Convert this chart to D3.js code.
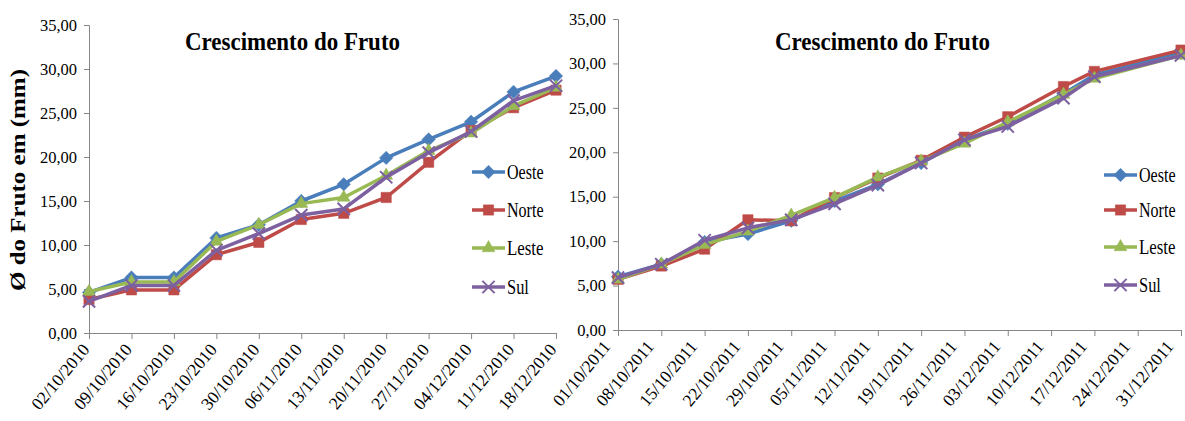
<!DOCTYPE html>
<html><head><meta charset="utf-8">
<script src="https://cdn.jsdelivr.net/npm/d3@7"></script>
<style>
html,body{margin:0;padding:0;background:#fff;}
svg{display:block;font-family:"Liberation Serif","Times New Roman",serif;}
</style></head>
<body><svg id="c" width="1185" height="421"></svg>
<script>
// ---- data ----
const seriesNames = ["Oeste","Norte","Leste","Sul"];
const seriesColors = ["#4A7EBB","#BE4B48","#98B954","#7D60A0"];
const seriesSymbols = ["diamond","square","triangle","x"];

const datesLeft = ["02/10/2010","09/10/2010","16/10/2010","23/10/2010","30/10/2010","06/11/2010","13/11/2010","20/11/2010","27/11/2010","04/12/2010","11/12/2010","18/12/2010"];
const oesteLeft = [4.6, 6.3, 6.3, 10.8, 12.3, 15.0, 16.9, 19.9, 22.0, 24.0, 27.4, 29.2];
const norteLeft = [3.8, 4.9, 4.9, 8.9, 10.3, 12.9, 13.6, 15.4, 19.4, 23.0, 25.6, 27.6];
const lesteLeft = [4.7, 5.8, 5.8, 10.4, 12.3, 14.7, 15.4, 17.9, 20.7, 22.7, 25.8, 27.9];
const sulLeft   = [3.6, 5.4, 5.4, 9.4, 11.3, 13.4, 14.1, 17.7, 20.5, 22.9, 26.4, 28.1];

const ticksRight = ["01/10/2011","08/10/2011","15/10/2011","22/10/2011","29/10/2011","05/11/2011","12/11/2011","19/11/2011","26/11/2011","03/12/2011","10/12/2011","17/12/2011","24/12/2011","31/12/2011"];
const datesRight = ["01/10/2011","08/10/2011","15/10/2011","22/10/2011","29/10/2011","05/11/2011","12/11/2011","19/11/2011","26/11/2011","03/12/2011","12/12/2011","17/12/2011","31/12/2011"];
const oesteRight = [6.0, 7.4, 9.9, 10.8, 12.3, 14.5, 16.4, 18.8, 21.4, 23.2, 26.6, 28.7, 31.2];
const norteRight = [5.7, 7.2, 9.1, 12.4, 12.3, 14.9, 17.1, 19.1, 21.7, 24.0, 27.4, 29.1, 31.5];
const lesteRight = [5.7, 7.4, 9.6, 11.1, 12.9, 14.9, 17.2, 19.0, 21.0, 23.4, 26.5, 28.3, 30.9];
const sulRight   = [5.9, 7.4, 10.1, 11.5, 12.4, 14.2, 16.3, 18.8, 21.4, 22.9, 26.1, 28.5, 30.9];

const yTicks = [0,5,10,15,20,25,30,35];
const titleText = "Crescimento do Fruto";
const yTitle = "Ø do Fruto em (mm)";

// ---- drawing ----
const parse = d3.timeParse("%d/%m/%Y");
const fmtDate = d3.timeFormat("%d/%m/%Y");
const fmtY = v => d3.format(".2f")(v).replace(".", ",");
const svg = d3.select("#c");
const axisColor = "#868686";

const symGen = {
  diamond: d3.symbol().type(d3.symbolDiamond2).size(115),
  square: d3.symbol().type(d3.symbolSquare2).size(135),
  triangle: d3.symbol().type(d3.symbolTriangle2).size(120),
  x: d3.symbol().type(d3.symbolX).size(100)
};

function drawMarker(g, sym, color, x, y) {
  const p = g.append("path").attr("d", symGen[sym]()).attr("transform", `translate(${x},${y})`);
  if (sym === "x") p.attr("fill","none").attr("stroke", color).attr("stroke-width", 2);
  else p.attr("fill", color).attr("stroke", color).attr("stroke-width", 0.5);
}

function panel(cfg) {
  const g = svg.append("g");
  const x = d3.scaleTime().domain([parse(cfg.ticks[0]), parse(cfg.ticks[cfg.ticks.length-1])]).range(cfg.xr);
  const y = d3.scaleLinear().domain([0,35]).range(cfg.yr);

  // y axis
  const ya = g.append("g").attr("transform", `translate(${cfg.xr[0]},0)`)
    .call(d3.axisLeft(y).tickValues(yTicks).tickFormat(fmtY).tickSizeOuter(0).tickSize(5).tickPadding(7));
  ya.select(".domain").attr("stroke", axisColor);
  ya.selectAll(".tick line").attr("stroke", axisColor);
  ya.selectAll(".tick text").attr("fill","#000").style("font-size","16.5px").style("font-family","Liberation Serif");

  // x axis
  const xa = g.append("g").attr("transform", `translate(0,${cfg.yr[0]})`)
    .call(d3.axisBottom(x).tickValues(cfg.ticks.map(parse)).tickFormat(fmtDate).tickSizeOuter(0).tickSize(6));
  xa.select(".domain").attr("stroke", axisColor);
  xa.selectAll(".tick line").attr("stroke", axisColor);
  xa.selectAll(".tick text").attr("fill","#000").style("font-size","17.5px").style("font-family","Liberation Serif")
    .attr("text-anchor","end").attr("dy",null).attr("y",null)
    .attr("transform",`translate(${cfg.lblDx},17) rotate(-50)`);

  // lines
  const dates = cfg.dates.map(parse);
  const line = d3.line().x((d,i)=>x(dates[i])).y(d=>y(d));
  cfg.series.forEach((vals, si) => {
    g.append("path").datum(vals).attr("d", line).attr("fill","none")
      .attr("stroke", seriesColors[si]).attr("stroke-width", 3.5).attr("stroke-linejoin","round");
    vals.forEach((v,i) => drawMarker(g, seriesSymbols[si], seriesColors[si], x(dates[i]), y(v)));
  });

  // title
  g.append("text").attr("x", cfg.titleX).attr("y", 50).attr("text-anchor","start")
    .attr("textLength", 215).attr("lengthAdjust","spacingAndGlyphs")
    .style("font-size","25px").style("font-weight","bold").text(titleText);

  // legend
  seriesNames.forEach((n, i) => {
    const ly = cfg.legY[i];
    g.append("line").attr("x1", cfg.legX).attr("x2", cfg.legX+33).attr("y1", ly).attr("y2", ly)
      .attr("stroke", seriesColors[i]).attr("stroke-width", 3.5);
    drawMarker(g, seriesSymbols[i], seriesColors[i], cfg.legX+16.5, ly);
    g.append("text").attr("x", cfg.legX+35).attr("y", ly+6.5)
      .attr("textLength", n.length*7.3).attr("lengthAdjust","spacingAndGlyphs")
      .style("font-size","20px").text(n);
  });
}

panel({
  ticks: datesLeft, dates: datesLeft, xr: [89, 556], yr: [333, 25],
  series: [oesteLeft, norteLeft, lesteLeft, sulLeft],
  titleX: 185, legX: 472, legY: [172, 210, 248, 287], lblDx: 1
});
panel({
  ticks: ticksRight, dates: datesRight, xr: [618, 1181], yr: [330, 19],
  series: [oesteRight, norteRight, lesteRight, sulRight],
  titleX: 775, legX: 1104, legY: [175, 210, 247, 285], lblDx: -7
});

// y title
svg.append("text").attr("transform","translate(25,180) rotate(-90)")
  .attr("text-anchor","middle").attr("textLength", 222).attr("lengthAdjust","spacingAndGlyphs")
  .style("font-size","21px").style("font-weight","bold").text(yTitle);
</script>
</body></html>
